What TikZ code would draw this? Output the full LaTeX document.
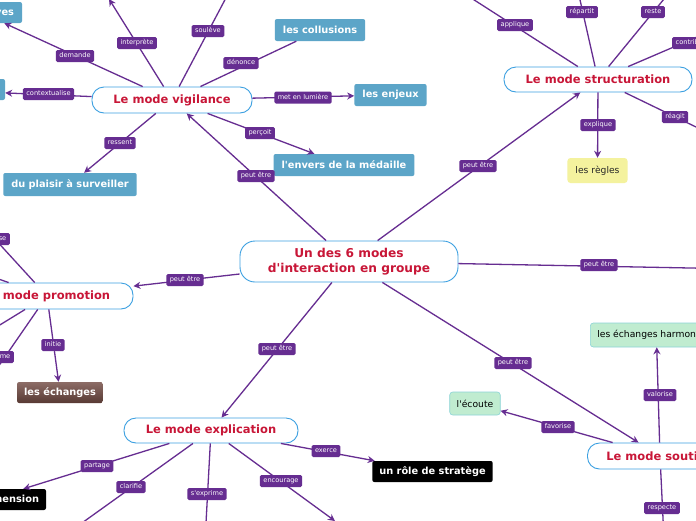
\documentclass[tikz,border=0pt]{standalone}
\usepackage{fontspec}
\setmainfont{DejaVu Sans}[Ligatures=TeXOff]
\usetikzlibrary{arrows.meta}
\definecolor{purp}{RGB}{102,45,145}
\definecolor{modered}{RGB}{200,22,55}
\definecolor{modeblue}{RGB}{60,160,225}
\definecolor{leafblue}{RGB}{92,165,200}
\definecolor{leafgreen}{RGB}{192,236,208}
\definecolor{greenedge}{RGB}{140,212,215}
\definecolor{leafyellow}{RGB}{244,242,158}
\definecolor{browntop}{RGB}{140,108,102}
\definecolor{brownbot}{RGB}{88,58,52}
\tikzset{
  modebox/.style={draw=modeblue, line width=0.9pt, fill=white, rounded corners=12pt, text=modered,
    font=\fontsize{11.5}{14}\selectfont\bfseries, inner sep=0pt},
  bluebox/.style={fill=leafblue, rounded corners=2pt, text=white,
    font=\fontsize{9.8}{12}\selectfont\bfseries, minimum height=22pt, inner xsep=8pt, inner ysep=0pt},
  blackbox/.style={fill=black, rounded corners=2pt, text=white,
    font=\fontsize{9.8}{12}\selectfont\bfseries, minimum height=21pt, inner xsep=7pt, inner ysep=0pt},
  greenbox/.style={fill=leafgreen, draw=greenedge, line width=0.6pt, rounded corners=3pt, text=black,
    font=\fontsize{9.2}{11}\selectfont, minimum height=23pt, inner xsep=7pt, inner ysep=0pt},
  yellowbox/.style={fill=leafyellow, rounded corners=3pt, text=black!85,
    font=\fontsize{9.2}{11}\selectfont, minimum height=25pt, inner xsep=8pt, inner ysep=0pt},
  brownbox/.style={top color=browntop, bottom color=brownbot, rounded corners=2pt, text=white,
    font=\fontsize{9.8}{12}\selectfont\bfseries, minimum height=21pt, inner xsep=7pt, inner ysep=0pt},
  conn/.style={draw=purp, line width=1.3pt},
  arr/.style={conn, -{Stealth[length=7pt,width=7pt]}},
  lbl/.style={fill=purp, text=white, rounded corners=1.5pt, font=\fontsize{6.6}{7.5}\selectfont,
    inner xsep=3.5pt, inner ysep=1pt, minimum height=12pt, text height=5.2pt, text depth=1.5pt}
}
\begin{document}
\begin{tikzpicture}[x=1pt,y=-1pt]
\useasboundingbox (0,0) rectangle (696,520);
\clip (0,0) rectangle (696,520);
\fill[white] (0,0) rectangle (696,520);

% central and mode nodes
\node[modebox, minimum width=218pt, minimum height=41pt, rounded corners=15pt, align=center,
  font=\fontsize{12.2}{15}\selectfont\bfseries] (c) at (349,261.5) {Un des 6 modes\\d'interaction en groupe};
\node[modebox, minimum width=160pt, minimum height=26pt] (vig) at (172,100) {Le mode vigilance};
\node[modebox, minimum width=188pt, minimum height=25pt] (struct) at (598,79.5) {Le mode structuration};
\node[modebox, minimum width=172pt, minimum height=26pt] (promo) at (47,296) {Le mode promotion};
\node[modebox, minimum width=174pt, minimum height=25pt] (expl) at (211,430.5) {Le mode explication};
\node[modebox, minimum width=145pt, minimum height=26pt] (sout) at (660,456) {Le mode soutien};

% leaves
\node[bluebox, text width=66pt, align=right, minimum height=21pt] (ves) at (-19,12.5) {ves};
\node[bluebox, minimum width=160pt, minimum height=21pt] (ctx) at (-75,89.5) {};
\node[bluebox] (coll) at (320,30) {les collusions};
\node[bluebox] (enj) at (390.5,95) {les enjeux};
\node[bluebox] (env) at (344,165) {l'envers de la médaille};
\node[bluebox, minimum height=23pt] (plais) at (70,184.5) {du plaisir à surveiller};
\node[yellowbox] (regles) at (597.5,170.5) {les règles};
\node[brownbox] (ech) at (60,392.5) {les échanges};
\node[blackbox, text width=100pt, align=right] (hens) at (-11,499.5) {la compréhension};
\node[blackbox] (strat) at (432.5,471.5) {un rôle de stratège};
\node[greenbox] (ecoute) at (475,403.5) {l'écoute};
\node[greenbox, minimum height=24pt, anchor=west] (harm) at (590,335) {les échanges harmonieux};

% off-picture ends
\coordinate (interp) at (109,-1);
\coordinate (soul) at (246,-40);
\coordinate (appl) at (440,-22);
\coordinate (rep) at (571,-40);
\coordinate (reste) at (696,-40);
\coordinate (contrib) at (760,10);
\coordinate (reag) at (760,158);
\coordinate (pse) at (-60,179);
\coordinate (pfrag) at (-80,251.5);
\coordinate (pleft) at (-80,374);
\coordinate (pme) at (-40,422);
\coordinate (clar) at (40,553);
\coordinate (sexp) at (204,560);
\coordinate (enc) at (335,521);
\coordinate (resp) at (665,560);
\coordinate (right) at (900,272);

% connectors
\draw[arr] (c) -- (vig);
\draw[arr] (vig) -- (ves);
\draw[arr] (vig) -- (ctx);
\draw[arr] (vig) -- (interp);
\draw[arr] (vig) -- (soul);
\draw[conn] (vig) -- (coll);
\draw[arr] (vig) -- (enj);
\draw[arr] (vig) -- (env);
\draw[arr] (vig) -- (plais);
\draw[arr] (c) -- (struct);
\draw[arr] (struct) -- (appl);
\draw[arr] (struct) -- (rep);
\draw[arr] (struct) -- (reste);
\draw[arr] (struct) -- (contrib);
\draw[arr] (struct) -- (reag);
\draw[arr] (struct) -- (regles);
\draw[arr] (c) -- (promo);
\draw[arr] (promo) -- (pse);
\draw[arr] (promo) -- (pfrag);
\draw[arr] (promo) -- (pleft);
\draw[arr] (promo) -- (pme);
\draw[arr] (promo) -- (ech);
\draw[arr] (c) -- (expl);
\draw[arr] (expl) -- (hens);
\draw[arr] (expl) -- (clar);
\draw[arr] (expl) -- (sexp);
\draw[arr] (expl) -- (enc);
\draw[arr] (expl) -- (strat);
\draw[arr] (c) -- (sout);
\draw[arr] (sout) -- (ecoute);
\draw[arr] (sout) -- (harm);
\draw[arr] (sout) -- (resp);
\draw[arr] (c) -- (right);

% connector labels
\node[lbl] (l1) at (75,56) {demande};
\node[lbl] (l2) at (137,43) {interprète};
\node[lbl] (l3) at (208,31) {soulève};
\node[lbl] (l4) at (241,63) {dénonce};
\node[lbl] (l5) at (48.5,94) {contextualise};
\node[lbl] (l6) at (303,97.5) {met en lumière};
\node[lbl] (l7) at (260,133) {perçoit};
\node[lbl] (l8) at (120,143) {ressent};
\node[lbl] (l9) at (256,176) {peut être};
\node[lbl] (l10) at (515,25) {applique};
\node[lbl] (l11) at (582,12) {répartit};
\node[lbl] (l12) at (653,12) {reste};
\node[lbl, anchor=west] (l13) at (672,43) {contribue};
\node[lbl] (l14) at (675,117) {réagit};
\node[lbl] (l15) at (598,125) {explique};
\node[lbl] (l16) at (478,166) {peut être};
\node[lbl] (l17) at (185,280) {peut être};
\node[lbl] (l18) at (53,345) {initie};
\node[lbl, anchor=east, text width=24pt, align=right] (l19) at (10,239) {se};
\node[lbl, anchor=east, text width=30pt, align=right] (l20) at (14,357) {me};
\node[lbl] (l21) at (277,349) {peut être};
\node[lbl] (l22) at (97,466) {partage};
\node[lbl] (l23) at (131,487) {clarifie};
\node[lbl] (l24) at (207,494) {s'exprime};
\node[lbl] (l25) at (281,481) {encourage};
\node[lbl] (l26) at (326,451) {exerce};
\node[lbl] (l27) at (513,363) {peut être};
\node[lbl] (l28) at (558,427) {favorise};
\node[lbl] (l29) at (660,395) {valorise};
\node[lbl] (l30) at (662,508) {respecte};
\node[lbl] (l31) at (599,265) {peut être};
\end{tikzpicture}
\end{document}
